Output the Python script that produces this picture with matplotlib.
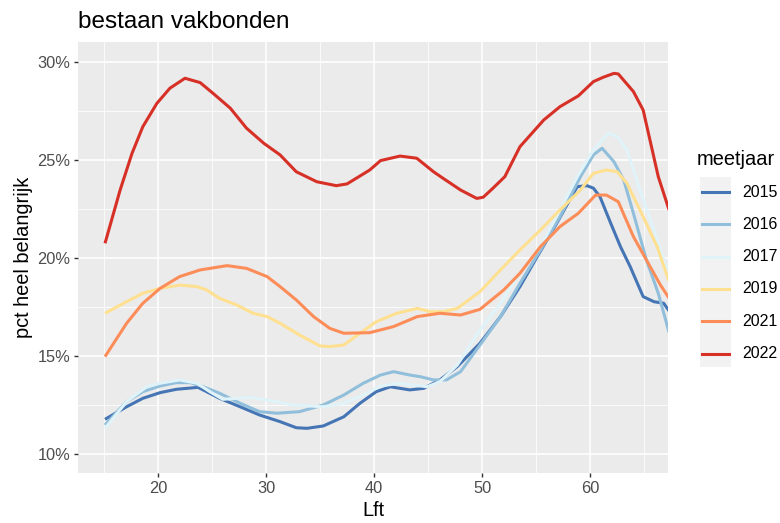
import numpy as np
import matplotlib
matplotlib.use("Agg")
import matplotlib.pyplot as plt
from matplotlib.lines import Line2D
from matplotlib.patches import Rectangle

plt.rcParams['font.family'] = ['Liberation Sans', 'DejaVu Sans']

# data (age, percentage)
x_2015 = [15.1, 17.1, 18.6, 20.2, 21.7, 23.7, 24.5, 25.7, 27.6, 29.4, 31.3, 32.8, 33.8, 35.3, 37.2,
          38.7, 40.2, 41.5, 43.3, 44.6, 46.1, 47.7, 49.8, 51.7, 53.5, 55.1, 56.9, 58.1, 58.8,
          59.7, 60.3, 60.9, 61.9, 62.8, 63.7, 64.9, 65.9, 66.8, 67.3]
y_2015 = [11.77, 12.41, 12.84, 13.13, 13.30, 13.40, 13.18, 12.84, 12.41, 11.99, 11.65, 11.34, 11.31,
          11.43, 11.90, 12.59, 13.18, 13.43, 13.27, 13.35, 13.78, 14.46, 15.65, 17.01, 18.54, 20.07,
          21.77, 22.96, 23.64, 23.69, 23.56, 23.13, 21.77, 20.58, 19.56, 18.03, 17.77, 17.69, 17.30]

x_2016 = [15.1, 17.1, 18.6, 20.2, 21.7, 23.0, 24.2, 25.7, 27.6, 29.4, 31.0, 33.1, 35.3, 37.2, 39.0,
          40.6, 41.8, 43.3, 44.3, 45.5, 46.7, 48.0, 49.8, 51.7, 53.5, 55.4, 57.2, 59.1, 60.3,
          61.1, 62.2, 63.1, 64.0, 65.2, 66.3, 67.3]
y_2016 = [11.48, 12.67, 13.18, 13.47, 13.64, 13.64, 13.43, 13.10, 12.59, 12.16, 12.08, 12.16, 12.50,
          13.01, 13.61, 14.03, 14.20, 14.03, 13.94, 13.78, 13.78, 14.20, 15.56, 17.01, 18.71, 20.41,
          22.11, 24.15, 25.26, 25.60, 24.91, 23.98, 22.28, 19.90, 18.20, 16.20]

x_2017 = [15.1, 17.1, 18.95, 20.2, 22.0, 23.6, 24.8, 26.0, 27.3, 28.5, 30.1, 32.5, 35.3, 37.2, 39.0,
          40.6, 42.4, 43.6, 44.9, 46.1, 47.7, 49.8, 51.7, 53.5, 55.4, 57.2, 58.8, 60.3, 61.7,
          62.5, 63.4, 64.6, 65.9, 67.3]
y_2017 = [11.31, 12.67, 13.43, 13.61, 13.78, 13.61, 13.18, 12.79, 12.84, 12.89, 12.76, 12.50, 12.41,
          12.59, 13.01, 13.47, 13.61, 13.52, 13.43, 13.69, 14.54, 16.33, 17.69, 19.22, 20.58, 22.45,
          24.15, 25.51, 26.36, 26.19, 25.51, 23.47, 21.43, 19.10]

x_2019 = [15.1, 17.1, 18.6, 20.2, 22.0, 23.6, 24.5, 25.7, 27.3, 28.8, 30.1, 31.3, 33.1, 35.0, 35.9,
          37.2, 38.7, 40.2, 42.1, 44.0, 45.2, 46.4, 47.7, 49.8, 51.7, 53.5, 55.4, 57.2, 59.1,
          60.3, 61.5, 62.5, 63.4, 64.6, 66.2, 67.3]
y_2019 = [17.18, 17.77, 18.20, 18.45, 18.62, 18.54, 18.37, 17.94, 17.60, 17.18, 17.01, 16.67, 16.07,
          15.51, 15.48, 15.56, 16.16, 16.75, 17.18, 17.43, 17.26, 17.26, 17.43, 18.28, 19.39, 20.41,
          21.43, 22.45, 23.47, 24.32, 24.49, 24.40, 23.81, 22.45, 20.58, 18.80]

x_2021 = [15.1, 17.1, 18.6, 20.2, 22.0, 23.9, 26.4, 28.2, 30.1, 31.3, 32.8, 34.4, 35.9, 37.2, 39.6,
          41.8, 44.0, 46.1, 48.0, 49.8, 52.0, 53.5, 55.4, 57.2, 58.9, 60.5, 61.5, 62.6, 64.0,
          65.2, 66.5, 67.3]
y_2021 = [14.97, 16.67, 17.69, 18.45, 19.05, 19.39, 19.61, 19.47, 19.05, 18.54, 17.86, 17.01, 16.41,
          16.16, 16.19, 16.50, 17.01, 17.18, 17.09, 17.38, 18.37, 19.22, 20.58, 21.60, 22.28, 23.21,
          23.21, 22.87, 21.09, 19.90, 18.62, 17.95]

x_2022 = [15.1, 16.5, 17.6, 18.6, 19.9, 21.1, 22.5, 23.9, 25.1, 26.7, 28.2, 29.8, 31.3, 32.8, 34.7,
          36.5, 37.5, 39.6, 40.6, 42.4, 43.95, 45.5, 46.4, 48.0, 49.5, 50.1, 51.0, 52.1, 53.5,
          55.7, 57.2, 58.9, 60.3, 61.2, 62.2, 62.6, 64.0, 64.9, 66.3, 67.3]
y_2022 = [20.75, 23.47, 25.34, 26.70, 27.89, 28.66, 29.17, 28.95, 28.40, 27.64, 26.62, 25.85, 25.26,
          24.40, 23.89, 23.69, 23.78, 24.49, 24.97, 25.20, 25.09, 24.40, 24.06, 23.47, 23.04, 23.10,
          23.56, 24.15, 25.68, 27.04, 27.72, 28.27, 29.00, 29.22, 29.42, 29.39, 28.49, 27.55, 24.15,
          22.45]

years = ['2015', '2016', '2017', '2019', '2021', '2022']
xs = [x_2015, x_2016, x_2017, x_2019, x_2021, x_2022]
ys = [y_2015, y_2016, y_2017, y_2019, y_2021, y_2022]
colors = ['#4575B4', '#91BFDB', '#E0F3F8', '#FEE090', '#FC8D59', '#D73027']

W, H = 780, 523
fig = plt.figure(figsize=(W / 100, H / 100), dpi=100)
ax = fig.add_axes([78 / W, 1 - 473 / H, 590 / W, 431 / H])
ax.set_facecolor('#EBEBEB')

for x, y, c in zip(xs, ys, colors):
    ax.plot(x, y, color=c, lw=2.2, solid_joinstyle='round', solid_capstyle='butt')

ax.set_xlim(12.6, 67.2)
ax.set_ylim(9.03, 31.02)
ax.set_xticks([20, 30, 40, 50, 60])
ax.set_xticks([15, 25, 35, 45, 55, 65], minor=True)
ax.set_yticks([10, 15, 20, 25, 30])
ax.set_yticks([12.5, 17.5, 22.5, 27.5], minor=True)
ax.set_yticklabels(['%d%%' % v for v in [10, 15, 20, 25, 30]])

ax.grid(which='major', color='white', lw=1.1)
ax.grid(which='minor', color='white', lw=0.55)
ax.set_axisbelow(True)
for s in ax.spines.values():
    s.set_visible(False)
ax.tick_params(which='major', length=3.2, width=1.0, color='#333333',
               labelcolor='#4D4D4D', labelsize=11.8, pad=2.5)
ax.tick_params(which='minor', length=0)

ax.set_xlabel('Lft', fontsize=14.4, color='black', labelpad=4)
ax.set_ylabel('pct heel belangrijk', fontsize=14.4, color='black', labelpad=3)
fig.text(78 / W, 1 - 28 / H, 'bestaan vakbonden', fontsize=17.5, va='baseline', ha='left')

# legend
fig.text(697 / W, 1 - 165 / H, 'meetjaar', fontsize=14.4, va='baseline', ha='left')
fig.add_artist(Rectangle((700 / W, 1 - 367 / H), 31 / W, 190 / H,
                         transform=fig.transFigure, facecolor='#F2F2F2', edgecolor='none'))
for i, (lab, c) in enumerate(zip(years, colors)):
    yy = 1 - (192 + i * 32.3) / H
    fig.add_artist(Line2D([702 / W, 729 / W], [yy, yy], transform=fig.transFigure,
                          color=c, lw=2.2))
    fig.text(742 / W, yy, lab, fontsize=11.5, va='center', ha='left')

fig.savefig('out.png', dpi=100)
